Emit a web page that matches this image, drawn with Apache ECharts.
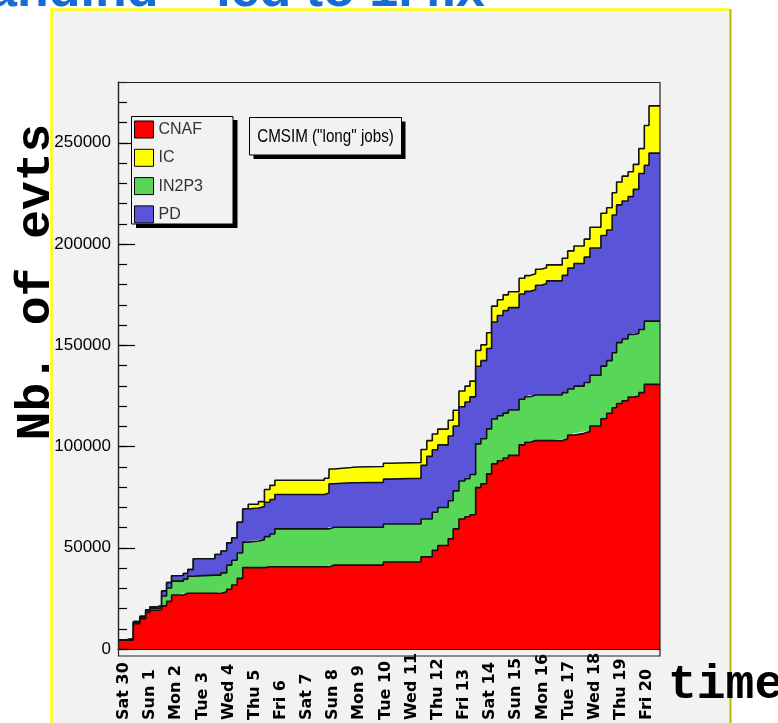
<!DOCTYPE html>
<html>
<head>
<meta charset="utf-8">
<script src="https://cdn.jsdelivr.net/npm/echarts@6.0.0/dist/echarts.min.js"></script>
<style>
html,body{margin:0;padding:0;background:#fff;}
#chart{width:778px;height:723px;}
</style>
</head>
<body>
<div id="chart"></div>
<script>
// Tick labels (days)
const dayLabels = ['Sat 30','Sun 1','Mon 2','Tue 3','Wed 4','Thu 5','Fri 6','Sat 7','Sun 8','Mon 9',
  'Tue 10','Wed 11','Thu 12','Fri 13','Sat 14','Sun 15','Mon 16','Tue 17','Wed 18','Thu 19','Fri 20'];
const dayTicks = [0,1,2,3,4,5,6,7,8,9,10,11,12,13,14,15,16,17,18,19,20];

// Bin start positions (days since Sat 30, 00:00)
const xDays = [-0.23,0.04,0.36,0.61,0.83,0.99,1.25,1.44,1.63,1.82,
  2.05,2.27,2.44,2.65,3.48,3.71,3.93,4.12,4.33,4.54,
  4.75,5.14,5.37,5.58,5.77,7.66,7.84,8.03,8.68,8.90,
  9.92,10.11,11.36,11.58,11.79,12.00,12.40,12.59,12.81,13.04,
  13.23,13.45,13.65,13.87,14.06,14.28,14.50,14.70,15.11,15.33,
  15.53,15.74,15.95,16.16,16.76,16.97,17.21,17.60,17.82,18.24,
  18.46,18.67,18.84,19.05,19.28,19.48,19.69,19.90,20.08,20.50];

// Number of events per site (stacked)
const cnaf = [4400,4400,12500,15000,18100,19100,19400,21300,23500,26700,
  26700,27500,27500,27500,27500,28300,29500,31600,34900,40200,
  40200,40200,40600,40600,40600,40600,41400,41400,41400,41400,
  43000,43000,45500,45500,48700,51100,54400,59300,64200,65300,
  66300,79700,81600,86500,91400,93000,94300,95600,100800,102100,
  102900,102900,102900,102900,103800,105600,106500,107400,110100,113700,
  116400,119100,121200,122600,124400,124800,126600,130700,130700,130700];
const in2p3 = [0,500,500,600,700,900,1000,4900,6600,6800,
  6800,7000,8500,9000,9000,9300,11900,12200,12500,12600,
  13100,13800,14900,16200,18700,18700,18700,18700,18700,18700,
  18700,18700,18700,18700,18800,18800,18800,18800,18800,18800,
  19900,21600,22200,22200,22200,22200,22200,22400,22500,22500,
  22500,22500,22500,22500,22800,22800,23300,24200,25100,26000,
  26000,27200,30100,30500,30900,31000,31200,31200,31200,31200];
const pd = [0,200,500,500,600,700,900,2400,2700,2700,
  2800,2800,3200,8100,10200,10800,11000,11000,15200,16300,
  16300,16300,17000,17000,17000,17700,21500,22000,22000,22200,
  22200,22600,26500,30900,30900,30900,32000,32000,36600,37900,
  38300,38300,38600,39700,47900,49500,50600,50600,52000,52000,
  52000,54200,55000,56400,57900,59700,60600,61900,62800,64500,
  64500,68000,68000,68100,68100,71200,77000,77000,83000,83000];
const ic = [0,0,0,0,0,0,0,0,0,0,
  0,0,0,0,0,0,0,0,0,0,
  1900,2500,6300,7000,7000,7300,7300,7500,7800,7800,
  7800,7800,7800,7800,7800,7800,7800,7800,7800,7800,
  7800,7800,7800,7800,7800,7800,7800,7800,7800,7800,
  7900,7900,7900,7900,8500,8500,8600,8900,10300,11000,
  11000,11000,11300,12300,12300,12300,12300,19600,23300,23300];

const SANS = '"Liberation Sans", Arial, sans-serif';
const MONO = '"Liberation Mono", "DejaVu Sans Mono", monospace';

function mk(name, vals, color, z) {
  return {
    name: name, type: 'line', step: 'end', symbol: 'none', showSymbol: false,
    stack: 'all', z: z,
    data: xDays.map((d, i) => [vals[i], d]),
    encode: { x: 1, y: 0 },
    lineStyle: { color: '#111', width: 1.6 },
    itemStyle: { color: color },
    areaStyle: { color: color, opacity: 1 },
    emphasis: { disabled: true },
    silent: true
  };
}

const chart = echarts.init(document.getElementById('chart'), null, { renderer: 'canvas' });
chart.setOption({
  animation: false,
  backgroundColor: '#ffffff',
  grid: { left: 118, right: 118, top: 82, bottom: 67, show: false },
  xAxis: {
    type: 'value', min: -0.23, max: 20.5, z: 20,
    axisLine: { show: true, onZero: false, lineStyle: { color: '#000', width: 1.2 } },
    axisTick: { show: false },
    splitLine: { show: false },
    axisLabel: {
      customValues: dayTicks,
      formatter: function (v) { return dayLabels[Math.round(v)]; },
      rotate: 90, align: 'left', verticalAlign: 'middle', margin: 71,
      fontFamily: '"DejaVu Sans", sans-serif', fontWeight: 'bold', fontSize: 16, color: '#000'
    }
  },
  yAxis: [
    {
      type: 'value', min: 0, max: 280000, interval: 50000, position: 'left', z: 20,
      axisLine: { show: true, onZero: false, lineStyle: { color: '#000', width: 1.2 } },
      axisTick: { show: true, inside: true, length: 17, lineStyle: { color: '#000', width: 1.2 } },
      axisLabel: { showMaxLabel: false, margin: 7, color: '#000', fontSize: 17, fontFamily: SANS,
        formatter: function (v) { return String(v); } },
      splitLine: { show: false }
    },
    {
      type: 'value', min: 0, max: 280000, interval: 10000, position: 'left', z: 20,
      axisLine: { show: false, onZero: false },
      axisTick: { show: true, inside: true, length: 9, lineStyle: { color: '#000', width: 1.2 } },
      axisLabel: { show: false },
      splitLine: { show: false }
    }
  ],
  legend: {
    data: ['CNAF', 'IC', 'IN2P3', 'PD'],
    orient: 'vertical', left: 134, top: 120.5,
    itemWidth: 19, itemHeight: 17, itemGap: 10.3, icon: 'rect', padding: 0,
    selectedMode: false, z: 60,
    itemStyle: { borderColor: '#000', borderWidth: 1 },
    textStyle: { fontFamily: SANS, fontSize: 16, color: '#333' }
  },
  graphic: [
    { type: 'rect', z: -100, shape: { x: 51, y: 9, width: 680, height: 730 }, style: { fill: '#f2f2f2' } },
    { type: 'polyline', z: -90, shape: { points: [[51.5, 730], [51.5, 9.5], [730, 9.5]] }, style: { stroke: '#ffff00', lineWidth: 2.5, fill: null } },
    { type: 'line', z: -90, shape: { x1: 730.5, y1: 9, x2: 730.5, y2: 730 }, style: { stroke: '#b8b800', lineWidth: 2 } },
    { type: 'text', z: 100, x: -12, y: -8, style: { text: 'andind \u2013 ied to 1.4.x', font: 'bold 52px "Liberation Sans", Arial, sans-serif', fill: '#166cd6', align: 'left', verticalAlign: 'middle' } },
    { type: 'rect', z: 100, shape: { x: 118.5, y: 82.5, width: 541.5, height: 573.5 }, style: { fill: null, stroke: '#222', lineWidth: 1.2 } },
    { type: 'rect', z: 50, shape: { x: 136, y: 120, width: 101.5, height: 108 }, style: { fill: '#000' } },
    { type: 'rect', z: 51, shape: { x: 131.5, y: 116.5, width: 101.5, height: 107.5 }, style: { fill: '#f2f2f2', stroke: '#000', lineWidth: 1 } },
    { type: 'rect', z: 50, shape: { x: 253.5, y: 121.5, width: 152, height: 37.5 }, style: { fill: '#000' } },
    { type: 'rect', z: 51, shape: { x: 249.5, y: 117.5, width: 152, height: 37.5 }, style: { fill: '#f2f2f2', stroke: '#000', lineWidth: 1 } },
    { type: 'text', z: 52, x: 325.5, y: 136.5, scaleX: 0.8, scaleY: 1, style: { text: 'CMSIM ("long" jobs)', font: '19px ' + SANS, fill: '#000', align: 'center', verticalAlign: 'middle' } },
    { type: 'text', z: 100, x: 37, y: 282, rotation: Math.PI / 2, style: { text: 'Nb. of evts', font: 'bold 48px ' + MONO, fill: '#000', align: 'center', verticalAlign: 'middle' } },
    { type: 'text', z: 100, x: 668, y: 686, style: { text: 'time', font: 'bold 48px ' + MONO, fill: '#000', align: 'left', verticalAlign: 'middle' } }
  ],
  series: [
    mk('CNAF', cnaf, '#ff0000', 6),
    mk('IN2P3', in2p3, '#57d657', 5),
    mk('PD', pd, '#5a55d8', 4),
    mk('IC', ic, '#ffff00', 3)
  ]
});
</script>
</body>
</html>
